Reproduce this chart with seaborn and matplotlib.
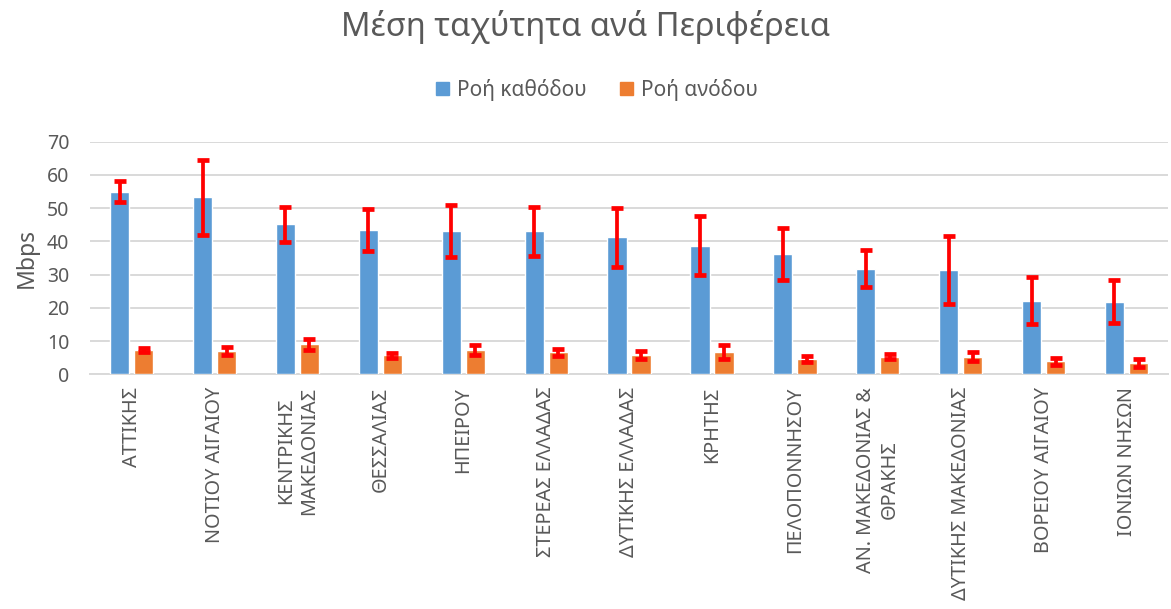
import numpy as np
import pandas as pd
import matplotlib
matplotlib.use("Agg")
import matplotlib.pyplot as plt
import seaborn as sns

# ========== δεδομένα ==========
regions = [
    "ΑΤΤΙΚΗΣ", "ΝΟΤΙΟΥ ΑΙΓΑΙΟΥ", "ΚΕΝΤΡΙΚΗΣ\nΜΑΚΕΔΟΝΙΑΣ", "ΘΕΣΣΑΛΙΑΣ",
    "ΗΠΕΙΡΟΥ", "ΣΤΕΡΕΑΣ ΕΛΛΑΔΑΣ", "ΔΥΤΙΚΗΣ ΕΛΛΑΔΑΣ", "ΚΡΗΤΗΣ",
    "ΠΕΛΟΠΟΝΝΗΣΟΥ", "ΑΝ. ΜΑΚΕΔΟΝΙΑΣ &\nΘΡΑΚΗΣ", "ΔΥΤΙΚΗΣ ΜΑΚΕΔΟΝΙΑΣ",
    "ΒΟΡΕΙΟΥ ΑΙΓΑΙΟΥ", "ΙΟΝΙΩΝ ΝΗΣΩΝ",
]
download = [55.0, 53.2, 45.1, 43.4, 43.2, 43.0, 41.2, 38.7, 36.2, 31.8, 31.5, 22.2, 21.9]
download_err = [3.3, 11.2, 5.2, 6.3, 7.8, 7.3, 8.9, 8.8, 7.7, 5.5, 10.2, 7.1, 6.6]
upload = [7.3, 7.0, 9.0, 5.7, 7.3, 6.6, 5.8, 6.7, 4.7, 5.3, 5.3, 3.9, 3.4]
upload_err = [0.5, 1.2, 1.7, 0.8, 1.4, 1.0, 1.1, 2.0, 0.9, 0.75, 1.4, 1.1, 1.1]

series = ["Ροή καθόδου", "Ροή ανόδου"]
colors = ["#5B9BD5", "#ED7D31"]

df = pd.DataFrame({
    "Περιφέρεια": regions * 2,
    "Σειρά": [series[0]] * len(regions) + [series[1]] * len(regions),
    "Mbps": download + upload,
})

# ========== γράφημα ==========
sns.set_style("white")
plt.rcParams["font.family"] = ["Noto Sans", "DejaVu Sans"]
grey = "#595959"

fig = plt.figure(figsize=(11.71, 6.09), dpi=100)
ax = fig.add_axes([0.077, 0.3854, 0.9204, 0.382])

sns.barplot(
    data=df, x="Περιφέρεια", y="Mbps", hue="Σειρά",
    order=regions, hue_order=series, palette=colors, saturation=1,
    width=0.58, gap=0.2, errorbar=None, ax=ax, zorder=3,
)

# κόκκινες μπάρες σφάλματος
for cont, errs in zip(ax.containers, [download_err, upload_err]):
    xs = [p.get_x() + p.get_width() / 2 for p in cont.patches]
    hs = [p.get_height() for p in cont.patches]
    ax.errorbar(xs, hs, yerr=errs, fmt="none", ecolor="#FF0000",
                elinewidth=2.7, capsize=4.0, capthick=3.4, zorder=4)

ax.set_ylim(0, 70)
ax.set_yticks(range(0, 71, 10))
ax.set_xlim(-0.5, len(regions) - 0.5)
ax.yaxis.grid(True, color="#D9D9D9", linewidth=1.4, zorder=0)
ax.set_axisbelow(True)
for s in ["top", "right", "left"]:
    ax.spines[s].set_visible(False)
ax.spines["bottom"].set_color("#D9D9D9")
ax.spines["bottom"].set_linewidth(1.4)
ax.tick_params(axis="y", length=0, colors=grey, labelsize=14, pad=15)
ax.tick_params(axis="x", length=0, colors=grey, labelsize=14.3, pad=9)
plt.setp(ax.get_xticklabels(), rotation=90, ha="center", va="top", multialignment="center")

ax.set_xlabel("")
ax.set_ylabel("Mbps", fontsize=16.5, color=grey, labelpad=6)

fig.suptitle("Μέση ταχύτητα ανά Περιφέρεια", y=0.955, va="center", fontsize=23.5, color=grey)

ax.legend_.remove()
handles = [plt.Rectangle((0, 0), 1, 1, color=c) for c in colors]
fig.legend(handles, series, loc="center", bbox_to_anchor=(0.51, 0.852), ncol=2,
           frameon=False, fontsize=15, labelcolor=grey, handlelength=0.6,
           handleheight=0.6, handletextpad=0.4, columnspacing=1.6)

fig.savefig("out.png", dpi=100)
